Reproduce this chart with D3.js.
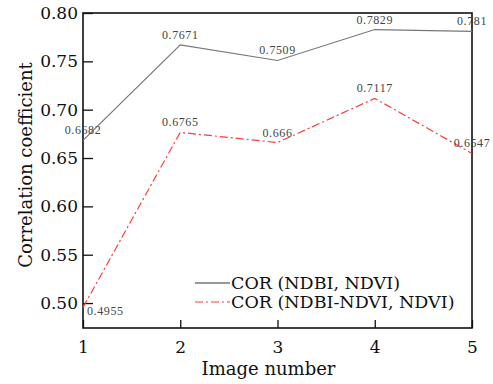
<!DOCTYPE html>
<html lang="en">
<head>
    <meta charset="UTF-8">
    <title>Correlation coefficient</title>
    <script src="https://d3js.org/d3.v7.min.js"></script>
    <style>
        body { margin: 0; background: #fff; }
        text { font-family: "DejaVu Serif", serif; fill: #111; }
        .lbl { font-family: "Liberation Serif", serif; font-size: 12px; fill: #444; letter-spacing: 0.6px; }
    </style>
</head>
<body>
    <svg width="493" height="384" id="grafico"></svg>
    <script>
        // datos
        var images = [1, 2, 3, 4, 5];
        var corNdbi = [0.6682, 0.7671, 0.7509, 0.7829, 0.781];
        var corDiff = [0.4955, 0.6765, 0.666, 0.7117, 0.6547];
        var yTicks = [0.50, 0.55, 0.60, 0.65, 0.70, 0.75, 0.80];
        var seriesNames = ["COR (NDBI, NDVI)", "COR (NDBI-NDVI, NDVI)"];

        var svg = d3.select("svg"),
            margin = { top: 13, right: 21, bottom: 56, left: 83 },
            width = +svg.attr("width") - margin.left - margin.right,
            height = +svg.attr("height") - margin.top - margin.bottom;

        var x = d3.scaleLinear().domain([1, 5]).range([0, width]);
        var y = d3.scaleLinear().domain([0.4742, 0.80]).range([height, 0]);

        var g = svg.append("g")
            .attr("transform", "translate(" + margin.left + "," + margin.top + ")");

        // marco
        g.append("rect")
            .attr("width", width).attr("height", height)
            .attr("fill", "none").attr("stroke", "#111").attr("stroke-width", 1.6);

        var yAxis = d3.axisLeft(y).tickValues(yTicks).tickFormat(d3.format(".2f"))
            .tickSizeInner(-10).tickSizeOuter(0).tickPadding(5);
        var gy = g.append("g").call(yAxis);
        gy.select(".domain").remove();
        gy.selectAll("line").attr("stroke", "#111").attr("stroke-width", 1.3);
        gy.selectAll("text").attr("font-size", 17).attr("font-family", "DejaVu Serif").attr("fill", "#111");

        var xAxis = d3.axisBottom(x).tickValues(images).tickFormat(d3.format("d"))
            .tickSizeInner(-8).tickSizeOuter(0).tickPadding(13);
        var gx = g.append("g").attr("transform", "translate(0," + height + ")").call(xAxis);
        gx.select(".domain").remove();
        gx.selectAll("line").attr("stroke", "#111").attr("stroke-width", 1.3);
        gx.selectAll("text").attr("font-size", 17).attr("font-family", "DejaVu Serif").attr("fill", "#111");

        var line = d3.line()
            .x(function (d, i) { return x(images[i]); })
            .y(function (d) { return y(d); });

        g.append("path").datum(corNdbi)
            .attr("fill", "none").attr("stroke", "#777").attr("stroke-width", 1.2)
            .attr("d", line);

        g.append("path").datum(corDiff)
            .attr("fill", "none").attr("stroke", "#ff3b3b").attr("stroke-width", 1.2)
            .attr("stroke-dasharray", "8,3,2,3")
            .attr("d", line);

        // etiquetas de valores
        function labels(data, cls) {
            g.selectAll("." + cls).data(data).enter().append("text")
                .attr("class", "lbl " + cls)
                .attr("text-anchor", function (d, i) { return (cls == "l2" && i == 0) ? "start" : "middle"; })
                .attr("x", function (d, i) { return x(images[i]) + ((cls == "l2" && i == 0) ? 4 : 0); })
                .attr("y", function (d, i) { return y(d) + ((cls == "l2" && i == 0) ? 8 : -6); })
                .text(function (d) { return String(d); });
        }
        labels(corNdbi, "l1");
        labels(corDiff, "l2");

        // leyenda
        var leg = g.append("g").attr("transform", "translate(" + (195 - margin.left) + "," + (283 - margin.top) + ")");
        var styles = [{ c: "#333", d: null }, { c: "#ff3b3b", d: "8,3,2,3" }];
        seriesNames.forEach(function (n, i) {
            leg.append("line")
                .attr("x1", 0).attr("x2", 35).attr("y1", i * 19).attr("y2", i * 19)
                .attr("stroke", styles[i].c).attr("stroke-width", 1.2)
                .attr("stroke-dasharray", styles[i].d);
            leg.append("text")
                .attr("x", 36).attr("y", i * 19 + 6)
                .attr("font-size", 17.5)
                .text(n);
        });

        // titulos de ejes
        svg.append("text")
            .attr("text-anchor", "middle")
            .attr("x", margin.left + x(3) - 9).attr("y", 375)
            .attr("font-size", 18)
            .text("Image number");

        svg.append("text")
            .attr("text-anchor", "middle")
            .attr("transform", "translate(32,165) rotate(-90)")
            .attr("font-size", 18)
            .text("Correlation coefficient");
    </script>
</body>
</html>
